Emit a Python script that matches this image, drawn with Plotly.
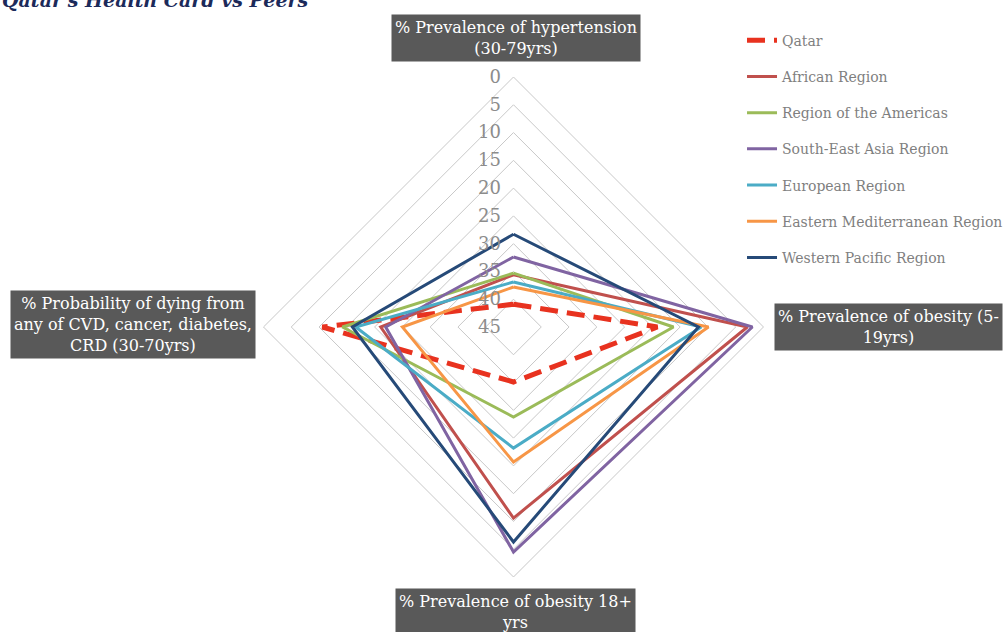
import plotly.graph_objects as go

# axis categories, clockwise from the top
categories = [
    "% Prevalence of hypertension<br>(30-79yrs)",
    "% Prevalence of obesity (5-<br>19yrs)",
    "% Prevalence of obesity 18+<br>yrs",
    "% Probability of dying from<br>any of CVD, cancer, diabetes,<br>CRD (30-70yrs)",
]
axis_keys = ["hyp", "ob_child", "ob_adult", "ncd"]

# values (same order as categories)
qatar = [40.9, 19.1, 35.1, 10.6]
african = [35.6, 2.9, 10.6, 21.1]
americas = [35.3, 16.2, 28.8, 14.2]
south_east_asia = [32.4, 2.0, 4.5, 22.0]
european = [36.9, 11.2, 23.2, 16.6]
eastern_med = [37.8, 9.9, 20.7, 25.0]
western_pacific = [28.3, 11.7, 6.3, 16.0]

series = [
    ("Qatar", qatar, "#e8321f", 5, "18px,9px"),
    ("African Region", african, "#c0504d", 3, "solid"),
    ("Region of the Americas", americas, "#9bbb59", 3, "solid"),
    ("South-East Asia Region", south_east_asia, "#8064a2", 3, "solid"),
    ("European Region", european, "#4bacc6", 3, "solid"),
    ("Eastern Mediterranean Region", eastern_med, "#f79646", 3, "solid"),
    ("Western Pacific Region", western_pacific, "#264a78", 3, "solid"),
]

SERIF = "DejaVu Serif"

fig = go.Figure()
for name, vals, color, width, dash in series:
    fig.add_trace(
        go.Scatterpolar(
            r=vals + vals[:1],
            theta=axis_keys + axis_keys[:1],
            mode="lines",
            name=name,
            legendgroup=name,
            line=dict(color=color, width=width, dash=dash),
        )
    )

# grey boxed axis titles, placed at the ends of the four spokes
label_pos = [
    (0.514, 0.978, "center", "top"),
    (1.0, 0.483, "right", "middle"),
    (0.514, 0.0696, "center", "top"),
    (0.255, 0.487, "right", "middle"),
]
annotations = []
for text, (x, y, xa, ya) in zip(categories, label_pos):
    annotations.append(
        dict(
            text=text, x=x, y=y, xref="paper", yref="paper", xanchor=xa, yanchor=ya,
            showarrow=False, bgcolor="#595959",
            font=dict(family=SERIF, size=16, color="white"), borderpad=3,
        )
    )
annotations.append(
    dict(
        text="<b><i>Qatar's Health Card vs Peers</i></b>", x=0, y=1, xref="paper", yref="paper",
        xanchor="left", yanchor="middle", yshift=0, showarrow=False,
        font=dict(family=SERIF, size=19, color="#1c2a5a"),
    )
)

fig.update_layout(
    width=1003,
    height=632,
    margin=dict(l=0, r=0, t=0, b=0, autoexpand=False),
    paper_bgcolor="white",
    plot_bgcolor="white",
    polar=dict(
        domain=dict(x=[0.2627, 0.7612], y=[0.0870, 0.8782]),
        bgcolor="white",
        gridshape="linear",
        radialaxis=dict(
            range=[45, 0],
            dtick=5,
            angle=90,
            tickangle=90,
            showline=False,
            ticks="",
            ticksuffix="\u00a0\u2009",
            gridcolor="#c8c8c8",
            gridwidth=1,
            tickfont=dict(family=SERIF, size=18, color="#8c8c8c"),
            side="counterclockwise",
        ),
        angularaxis=dict(
            rotation=90,
            direction="clockwise",
            showticklabels=False,
            ticks="",
            showgrid=False,
            showline=True,
            linecolor="#c8c8c8",
            linewidth=1,
        ),
    ),
    showlegend=True,
    legend=dict(
        x=0.7398, y=0.961, xanchor="left", yanchor="top",
        font=dict(family=SERIF, size=14, color="#7f7f7f"),
        tracegroupgap=15,
        itemwidth=30,
        bgcolor="rgba(0,0,0,0)",
    ),
    annotations=annotations,
)

# the page is shot without the browser's default body margin or scrollbars
fig.write_html(
    "out.html",
    config={"displayModeBar": False},
    post_script="document.body.style.margin='0px'; document.body.style.overflow='hidden';",
)
